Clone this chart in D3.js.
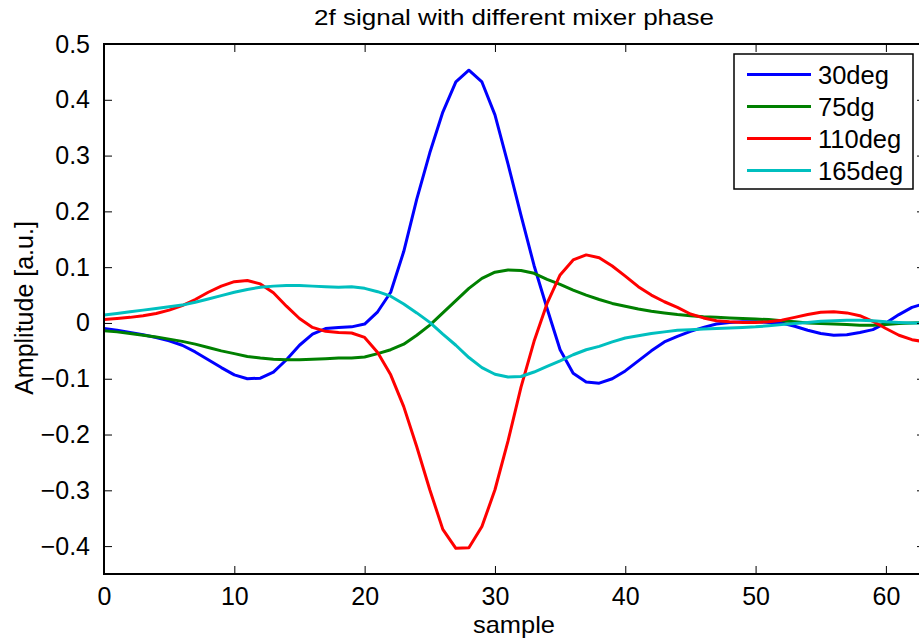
<!DOCTYPE html>
<html><head><meta charset="utf-8">
<script src="https://cdn.jsdelivr.net/npm/d3@7"></script>
<style>body{margin:0;background:#fff;}svg{display:block;font-family:"Liberation Sans",Arial,sans-serif;}</style>
</head><body>
<svg id="c" width="919" height="643"></svg>
<script>
const title = "2f signal with different mixer phase";
const xLabel = "sample";
const yLabel = "Amplitude [a.u.]";
const seriesNames = ["30deg", "75dg", "110deg", "165deg"];
const seriesColors = ["#0000ff", "#008000", "#ff0000", "#00bfbf"];
const xTicks = [0, 10, 20, 30, 40, 50, 60];
const yTicks = [-0.4, -0.3, -0.2, -0.1, 0, 0.1, 0.2, 0.3, 0.4, 0.5];

const deg30 = [-0.010,-0.013,-0.017,-0.021,-0.026,-0.032,-0.040,-0.052,-0.066,-0.080,
 -0.093,-0.100,-0.099,-0.088,-0.066,-0.040,-0.020,-0.010,-0.008,-0.007,
 -0.002,0.020,0.055,0.128,0.222,0.305,0.378,0.432,0.453,0.432,
 0.373,0.285,0.193,0.103,0.026,-0.048,-0.090,-0.106,-0.108,-0.100,
 -0.086,-0.068,-0.050,-0.034,-0.024,-0.015,-0.008,-0.002,0.001,0.002,
 0.002,0.001,0.000,-0.006,-0.013,-0.019,-0.022,-0.021,-0.017,-0.012,
 0.000,0.015,0.028,0.035];
const deg75 = [-0.014,-0.016,-0.019,-0.022,-0.025,-0.029,-0.033,-0.038,-0.044,-0.050,
 -0.055,-0.060,-0.063,-0.065,-0.066,-0.066,-0.065,-0.064,-0.063,-0.063,
 -0.061,-0.055,-0.048,-0.038,-0.022,-0.004,0.018,0.040,0.062,0.080,
 0.091,0.095,0.094,0.089,0.078,0.069,0.059,0.050,0.042,0.035,
 0.030,0.025,0.021,0.018,0.015,0.013,0.011,0.010,0.009,0.008,
 0.007,0.006,0.004,0.002,0.000,-0.001,-0.002,-0.003,-0.004,-0.004,
 -0.003,-0.001,0.000,0.001];
const deg110 = [0.006,0.008,0.010,0.013,0.017,0.023,0.031,0.042,0.055,0.066,
 0.074,0.076,0.070,0.054,0.030,0.008,-0.008,-0.015,-0.017,-0.018,
 -0.026,-0.053,-0.093,-0.150,-0.222,-0.299,-0.370,-0.404,-0.403,-0.365,
 -0.299,-0.212,-0.115,-0.033,0.035,0.086,0.113,0.122,0.117,0.102,
 0.084,0.065,0.050,0.038,0.028,0.016,0.009,0.004,0.002,0.001,
 0.001,0.002,0.005,0.010,0.015,0.019,0.020,0.018,0.013,0.003,
 -0.010,-0.022,-0.030,-0.034];
const deg165 = [0.014,0.017,0.020,0.023,0.026,0.029,0.032,0.037,0.043,0.049,
 0.055,0.060,0.064,0.066,0.067,0.067,0.066,0.065,0.064,0.065,
 0.062,0.056,0.048,0.034,0.018,0.001,-0.020,-0.040,-0.062,-0.080,
 -0.092,-0.097,-0.096,-0.088,-0.078,-0.068,-0.057,-0.048,-0.042,-0.034,
 -0.027,-0.023,-0.019,-0.016,-0.013,-0.012,-0.011,-0.010,-0.009,-0.008,
 -0.007,-0.005,-0.003,-0.001,0.001,0.003,0.004,0.005,0.005,0.004,
 0.002,0.001,0.000,0.000];
const seriesValues = [deg30, deg75, deg110, deg165];

const L = 104, T = 44, R = 925, B = 574;
const svg = d3.select("#c");
const x = d3.scaleLinear().domain([0, 63]).range([L, R]);
const y = d3.scaleLinear().domain([-0.45, 0.5]).range([B, T]);

const fmt = d => d === 0 ? "0" : d3.format(".1f")(d).replace("-", "\u2212");

svg.append("defs").append("clipPath").attr("id","clip")
  .append("rect").attr("x",L).attr("y",T).attr("width",R-L).attr("height",B-T);

const line = d3.line().x((d,i)=>x(i)).y(d=>y(d));
const g = svg.append("g").attr("clip-path","url(#clip)");
seriesValues.forEach((vals, k) => {
  g.append("path").datum(vals).attr("d", line)
    .attr("fill","none").attr("stroke", seriesColors[k]).attr("stroke-width",3)
    .attr("stroke-linejoin","round");
});

const tl = 8;
const bottomAx = d3.axisBottom(x).tickValues(xTicks).tickSize(-tl).tickPadding(13).tickFormat(d=>d);
const topAx = d3.axisTop(x).tickValues(xTicks).tickSize(-tl).tickFormat("");
const leftAx = d3.axisLeft(y).tickValues(yTicks).tickSize(-tl).tickPadding(14).tickFormat(fmt);
const rightAx = d3.axisRight(y).tickValues(yTicks).tickSize(-tl).tickFormat("");

function style(sel){
  sel.select(".domain").remove();
  sel.selectAll(".tick line").attr("stroke","#000").attr("stroke-width",1);
  sel.selectAll(".tick text").attr("font-size",25).attr("fill","#000")
    .attr("font-family","Liberation Sans, Arial, sans-serif");
}
svg.append("g").attr("transform",`translate(0,${B})`).call(bottomAx).call(style);
svg.append("g").attr("transform",`translate(0,${T})`).call(topAx).call(style);
svg.append("g").attr("transform",`translate(${L},0)`).call(leftAx).call(style);
svg.append("g").attr("transform",`translate(${R},0)`).call(rightAx).call(style);

svg.append("rect").attr("x",L).attr("y",T).attr("width",R-L).attr("height",B-T)
  .attr("fill","none").attr("stroke","#000").attr("stroke-width",2);

svg.append("text").attr("x",514).attr("y",25).attr("text-anchor","middle")
  .attr("font-size",22.5).attr("fill","#000")
  .attr("textLength",400).attr("lengthAdjust","spacingAndGlyphs").text(title);
svg.append("text").attr("x",514).attr("y",633).attr("text-anchor","middle")
  .attr("font-size",24).attr("fill","#000")
  .attr("textLength",82).attr("lengthAdjust","spacingAndGlyphs").text(xLabel);
svg.append("text").attr("transform",`translate(33,308) rotate(-90)`)
  .attr("text-anchor","middle").attr("font-size",25).attr("fill","#000").text(yLabel);

const lg = svg.append("g");
lg.append("rect").attr("x",734).attr("y",54).attr("width",179).attr("height",135)
  .attr("fill","#fff").attr("stroke","#000").attr("stroke-width",1.5);
seriesNames.forEach((n,k)=>{
  const cy = 74.5 + k*32;
  lg.append("line").attr("x1",747).attr("x2",811).attr("y1",cy).attr("y2",cy)
    .attr("stroke",seriesColors[k]).attr("stroke-width",3);
  lg.append("text").attr("x",818).attr("y",cy+9).attr("font-size",25.5)
    .attr("fill","#000").text(n);
});
</script>
</body></html>
